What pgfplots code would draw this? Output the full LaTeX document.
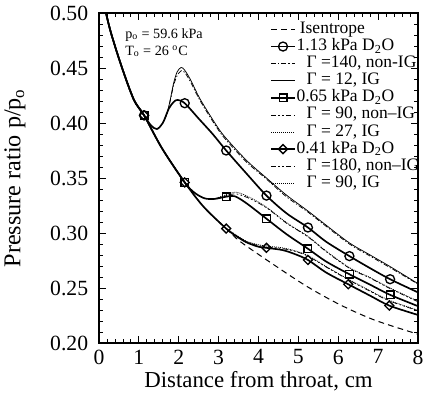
\documentclass[border=0pt]{standalone}
\usepackage{fontspec}
\setmainfont{Liberation Serif}
\usepackage{pgfplots}
\pgfplotsset{compat=1.18}
\usetikzlibrary{calc}
\tikzset{
 isen/.style={black, line width=0.6pt, dash pattern=on 3.5pt off 2.5pt},
 expl/.style={black, line width=1.0pt},
 igthin/.style={black, line width=0.45pt},
 nig13/.style={black, line width=0.45pt, dash pattern=on 3pt off 1.2pt on 0.8pt off 1.2pt},
 nig/.style={black, line width=0.45pt, dash pattern=on 3pt off 1.4pt on 1pt off 1.4pt on 1pt off 1.4pt},
 igdot/.style={black, line width=0.45pt, dash pattern=on 0.6pt off 0.6pt},
 mcirc/.style={black, mark=o, mark size=2.7pt, mark options={solid, line width=0.8pt}},
 msq/.style={black, mark=square, mark size=2.3pt, mark options={solid, line width=0.8pt}},
 mdia/.style={black, mark=square, mark size=1.9pt, mark options={solid, rotate=45, line width=0.8pt}},
}
\begin{document}
\begin{tikzpicture}
\begin{axis}[name=ax, scale only axis, width=191.4pt, height=198pt,
 xmin=0, xmax=8, ymin=0.2, ymax=0.5,
 xtick={0,1,2,3,4,5,6,7,8},
 ytick={0.20,0.25,0.30,0.35,0.40,0.45,0.50},
 minor x tick num=4, minor y tick num=4,
 tick align=inside, major tick length=4pt, minor tick length=2.2pt,
 every tick/.style={black, line width=0.5pt},
 axis line style={line width=0.8pt},
 /pgf/number format/assume math mode=true,
 tick label style={font=\fontsize{13}{15}\selectfont},
 x tick label style={yshift=-0.5pt},
 y tick label style={/pgf/number format/fixed, /pgf/number format/fixed zerofill, /pgf/number format/precision=2, xshift=-3pt},
 xlabel={Distance from throat, cm},
 ylabel={Pressure ratio p/p\textsubscript{o}},
 xlabel style={font=\fontsize{13.7}{16}\selectfont, at={(axis description cs:0.5,-0.115)}, anchor=center},
 ylabel style={font=\fontsize{14.5}{16}\selectfont, at={(axis description cs:-0.2633,0.5)}, anchor=center},
 legend cell align=left,
 legend image code/.code={\draw[mark repeat=2,mark phase=2,#1] plot coordinates {(0cm,0cm) (0.25cm,0cm) (0.5cm,0cm)};},
 legend style={at={(axis description cs:0.536,0.977)}, anchor=north west, draw=none, fill=none, inner sep=0pt,
   font=\fontsize{10.5}{11}\selectfont, row sep=0.06pt,
   nodes={inner sep=0.5pt, text height=7pt, text depth=2.2pt}},
]
% legend
\addlegendimage{isen}
\addlegendentry{\hspace*{2pt}Isentrope}
\addlegendimage{expl, mcirc, mark phase=1}
\addlegendentry{1.13 kPa D\textsubscript{2}O}
\addlegendimage{nig13}
\addlegendentry{\hspace*{6pt}Γ =140, non-IG}
\addlegendimage{igthin}
\addlegendentry{\hspace*{6pt}Γ = 12, IG}
\addlegendimage{expl, msq, mark phase=1}
\addlegendentry{0.65 kPa D\textsubscript{2}O}
\addlegendimage{nig}
\addlegendentry{\hspace*{6pt}Γ = 90, non–IG}
\addlegendimage{igdot}
\addlegendentry{\hspace*{6pt}Γ = 27, IG}
\addlegendimage{expl, mdia, mark phase=1}
\addlegendentry{0.41 kPa D\textsubscript{2}O}
\addlegendimage{nig}
\addlegendentry{\hspace*{6pt}Γ =180, non–IG}
\addlegendimage{igdot}
\addlegendentry{\hspace*{6pt}Γ = 90, IG}

% isentrope
\addplot[isen, smooth, forget plot] coordinates {(0.176,0.500) (0.30,0.482) (0.56,0.452) (0.87,0.4215) (1.13,0.407) (1.58,0.377) (2.15,0.346) (2.62,0.324) (3.19,0.304) (3.55,0.292) (4.39,0.271) (5.22,0.2513) (6.06,0.2345) (6.90,0.221) (7.91,0.209) (8.0,0.208)};

% 1.13 kPa models
\addplot[igthin, smooth, forget plot] coordinates {(1.60,0.400) (1.70,0.408) (1.78,0.420) (1.87,0.436) (1.96,0.4465) (2.06,0.4505) (2.15,0.448) (2.3,0.439) (2.54,0.4215) (2.96,0.397) (3.19,0.386) (3.7,0.366) (4.2,0.350) (4.7,0.3345) (5.24,0.320) (5.7,0.307) (6.28,0.291) (6.8,0.280) (7.3,0.2695) (8.0,0.254)};
\addplot[nig13, smooth, forget plot] coordinates {(1.60,0.400) (1.70,0.408) (1.78,0.419) (1.87,0.434) (1.96,0.443) (2.06,0.4475) (2.15,0.446) (2.3,0.437) (2.54,0.420) (2.96,0.3955) (3.19,0.3845) (3.7,0.3645) (4.2,0.349) (4.7,0.333) (5.24,0.319) (5.7,0.306) (6.28,0.290) (6.8,0.279) (7.3,0.2685) (8.0,0.2535)};

% 0.65 kPa models
\addplot[nig, smooth, forget plot] coordinates {(2.9,0.331) (3.19,0.334) (3.45,0.3355) (3.8,0.331) (4.22,0.3225) (4.7,0.309) (5.24,0.2965) (5.7,0.283) (6.28,0.268) (6.8,0.259) (7.3,0.2495) (8.0,0.2375)};
\addplot[igdot, smooth, forget plot] coordinates {(2.9,0.331) (3.19,0.3348) (3.45,0.337) (3.8,0.332) (4.22,0.323) (4.7,0.3095) (5.24,0.297) (5.7,0.2835) (6.28,0.2685) (6.8,0.2595) (7.3,0.250) (8.0,0.238)};

% 0.41 kPa models
\addplot[nig, smooth, forget plot] coordinates {(3.19,0.304) (3.45,0.2975) (3.7,0.292) (4.0,0.2885) (4.3,0.287) (4.6,0.2858) (4.9,0.2835) (5.24,0.279) (5.7,0.269) (6.28,0.257) (6.8,0.247) (7.3,0.238) (8.0,0.2294)};
\addplot[igdot, smooth, forget plot] coordinates {(3.19,0.304) (3.45,0.298) (3.7,0.2925) (4.0,0.2893) (4.3,0.2878) (4.6,0.2865) (4.9,0.284) (5.24,0.2795) (5.7,0.2695) (6.28,0.2575) (6.8,0.2475) (7.3,0.2385) (8.0,0.2298)};

% experiments
\addplot[expl, smooth, forget plot] coordinates {(0.176,0.500) (0.30,0.482) (0.56,0.452) (0.87,0.4215) (1.13,0.407) (1.30,0.398) (1.45,0.3945) (1.60,0.400) (1.75,0.413) (1.87,0.419) (1.97,0.421) (2.15,0.418) (2.5,0.404) (2.85,0.390) (3.19,0.375) (3.7,0.354) (4.2,0.334) (4.7,0.318) (5.24,0.305) (5.7,0.292) (6.28,0.279) (6.8,0.268) (7.3,0.258) (8.0,0.246)};
\addplot[expl, smooth, forget plot] coordinates {(0.176,0.500) (0.30,0.482) (0.56,0.452) (0.87,0.4215) (1.13,0.407) (1.58,0.377) (2.15,0.346) (2.4,0.3365) (2.65,0.3315) (2.9,0.331) (3.19,0.333) (3.4,0.3335) (3.7,0.327) (4.2,0.313) (4.7,0.299) (5.24,0.2857) (5.7,0.274) (6.28,0.2625) (6.8,0.253) (7.3,0.2438) (8.0,0.2335)};
\addplot[expl, smooth, forget plot] coordinates {(0.176,0.500) (0.30,0.482) (0.56,0.452) (0.87,0.4215) (1.13,0.407) (1.58,0.377) (2.15,0.346) (2.62,0.324) (3.19,0.304) (3.45,0.297) (3.7,0.2915) (4.0,0.2875) (4.2,0.2865) (4.6,0.2845) (4.9,0.281) (5.24,0.2755) (5.7,0.264) (6.25,0.2534) (6.8,0.243) (7.28,0.234) (8.0,0.2255)};

% markers
\addplot[mcirc, only marks, forget plot] coordinates {(1.13,0.407) (2.15,0.418) (3.19,0.375) (4.2,0.334) (5.24,0.305) (6.28,0.279) (7.3,0.258)};
\addplot[msq, only marks, forget plot] coordinates {(1.13,0.407) (2.15,0.346) (3.19,0.333) (4.2,0.313) (5.24,0.2857) (6.28,0.2625) (7.3,0.2438)};
\addplot[mdia, only marks, forget plot] coordinates {(1.13,0.407) (2.15,0.346) (3.19,0.304) (4.2,0.2865) (5.24,0.2755) (6.25,0.2534) (7.28,0.234)};

\node[anchor=base west, font=\fontsize{8.5}{9}\selectfont, inner sep=0pt] at (axis cs:0.65,0.477) {p\textsubscript{o} = 59.6 kPa};
\node[anchor=base west, font=\fontsize{8.5}{9}\selectfont, inner sep=0pt] at (axis cs:0.65,0.4618) {T\textsubscript{o} = 26 \textsuperscript{o}C};
\end{axis}
\pgfresetboundingbox
\path[use as bounding box] ($(ax.south west)+(-59.4pt,-35.4pt)$) rectangle ($(ax.north east)+(3pt,7.8pt)$);
\end{tikzpicture}
\end{document}
